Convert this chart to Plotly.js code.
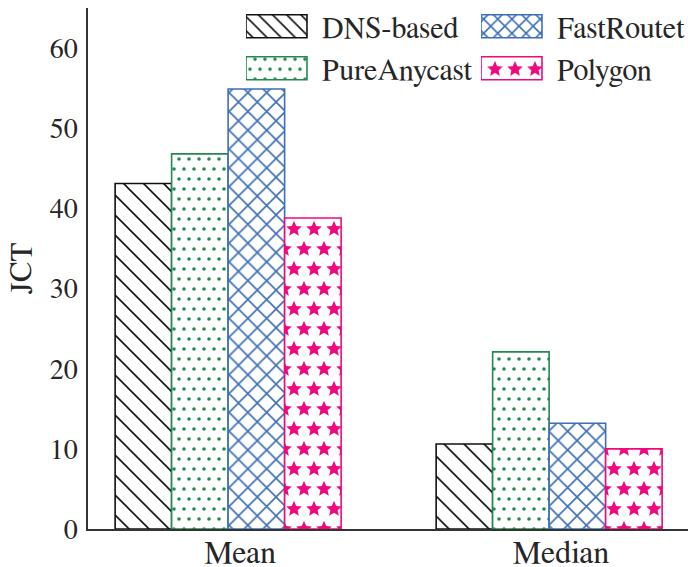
<!DOCTYPE html>
<html>
<head>
<meta charset="utf-8">
<script src="https://cdn.plot.ly/plotly-3.0.1.min.js"></script>
<style>html,body{margin:0;padding:0;background:#fff}#chart{width:688px;height:567px}</style>
</head>
<body>
<div id="chart"></div>
<script>
const categories = ["Mean", "Median"];
const seriesNames = ["DNS-based", "PureAnycast", "FastRoutet", "Polygon"];
const dnsBased = [43.1, 10.6];
const pureAnycast = [46.8, 22.1];
const fastRoutet = [54.9, 13.2];
const polygon = [38.8, 10.0];
const yTicks = [0, 10, 20, 30, 40, 50, 60];

const colors = ["#111111", "#22894f", "#3d6fb6", "#f0087f"];
const shapes = ["\\", ".", "x", "."];
const sizes = [14.14, 10, 13.3, 20];
const values = [dnsBased, pureAnycast, fastRoutet, polygon];
const legends = ["legend", "legend", "legend2", "legend2"];
const barW = 0.176;
const startOff = -0.389;

const FONT = "FreeSerif, DejaVu Serif";

const traces = values.map((v, i) => ({
  type: "bar",
  name: seriesNames[i],
  x: categories,
  y: v,
  width: barW,
  offset: startOff + i * barW,
  legend: legends[i],
  marker: {
    color: "#ffffff",
    line: {color: colors[i], width: 1.6},
    pattern: {shape: shapes[i], fgcolor: colors[i], bgcolor: "#ffffff", size: sizes[i], solidity: 0.15, fillmode: "replace"}
  }
}));

const legendFont = {family: FONT, size: 30, color: "#262626"};

const layout = {
  width: 688, height: 567,
  margin: {l: 88, r: 0, t: 8, b: 38, autoexpand: false},
  paper_bgcolor: "#ffffff", plot_bgcolor: "#ffffff",
  barmode: "overlay",
  font: {family: FONT, color: "#262626", size: 28},
  xaxis: {
    type: "category",
    range: [-0.4735, 1.3956],
    showline: true, linecolor: "#333333", linewidth: 1.6,
    ticks: "", showgrid: false, zeroline: false,
    tickfont: {family: FONT, size: 32, color: "#262626"},
    ticklabelstandoff: -6
  },
  yaxis: {
    range: [0, 65],
    tickvals: yTicks,
    showline: true, linecolor: "#333333", linewidth: 1.6,
    ticks: "", showgrid: false, zeroline: false,
    tickfont: {family: FONT, size: 28, color: "#262626"},
    ticklabelstandoff: 3,
    title: {text: "JCT", font: {family: FONT, size: 31, color: "#262626"}, standoff: 9}
  },
  legend: {
    x: 0.2633, y: 1.015, xanchor: "left", yanchor: "top",
    orientation: "v", bgcolor: "rgba(0,0,0,0)", borderwidth: 0,
    font: legendFont, itemwidth: 66, tracegroupgap: 6
  },
  legend2: {
    x: 0.655, y: 1.015, xanchor: "left", yanchor: "top",
    orientation: "v", bgcolor: "rgba(0,0,0,0)", borderwidth: 0,
    font: legendFont, itemwidth: 66, tracegroupgap: 6
  },
  showlegend: true
};

const NS = "http://www.w3.org/2000/svg";
function starPath(cx, cy, R, r) {
  let d = "";
  for (let k = 0; k < 10; k++) {
    const rad = (k % 2 === 0) ? R : r;
    const a = -Math.PI / 2 + k * Math.PI / 5;
    d += (k === 0 ? "M" : "L") + (cx + rad * Math.cos(a)).toFixed(2) + "," + (cy + rad * Math.sin(a)).toFixed(2);
  }
  return d + "Z";
}
function norm(c) { return (c || "").toLowerCase().replace(/\s/g, ""); }

function fixPatterns() {
  const pats = document.querySelectorAll("#chart pattern");
  pats.forEach(p => {
    const isLegend = (p.id || "").indexOf("legend") >= 0;
    const circle = p.querySelector("circle");
    const path = p.querySelector("path");
    if (circle) {
      const fill = norm(circle.getAttribute("fill") || circle.style.fill);
      const isPink = fill.indexOf("240,8,127") >= 0 || fill.indexOf("f0087f") >= 0;
      const rect = p.querySelector("rect");
      circle.remove();
      let w, h, tr;
      if (isPink) {
        w = 20; h = 40; tr = "translate(-4,11)";
        [[10, 10], [0, 30], [20, 30]].forEach(([cx, cy]) => {
          const s = document.createElementNS(NS, "path");
          s.setAttribute("d", starPath(cx, cy, 8.2, 3.8));
          s.setAttribute("fill", colors[3]);
          p.appendChild(s);
        });
      } else {
        w = 10; h = 20; tr = "translate(-4,6)";
        [[5, 5], [0, 15], [10, 15]].forEach(([cx, cy]) => {
          const c = document.createElementNS(NS, "circle");
          c.setAttribute("cx", cx); c.setAttribute("cy", cy); c.setAttribute("r", 1.8);
          c.setAttribute("fill", colors[1]);
          p.appendChild(c);
        });
      }
      p.setAttribute("width", w + "px"); p.setAttribute("height", h + "px");
      if (rect) { rect.setAttribute("width", w + "px"); rect.setAttribute("height", h + "px"); }
      p.setAttribute("patternTransform", tr);
    } else if (path) {
      path.style.strokeWidth = "1.6px";
      path.setAttribute("stroke-width", "1.6");
      if (isLegend) p.setAttribute("patternTransform", "");
    }
  });
  document.querySelectorAll("#chart .legendpoints path").forEach(pp => {
    pp.setAttribute("d", "M23,11.5H-38V-11.5H23Z");
    pp.style.strokeWidth = "1.6px";
  });
}

Plotly.newPlot("chart", traces, layout, {staticPlot: true, displayModeBar: false}).then(fixPatterns);
</script>
</body>
</html>
